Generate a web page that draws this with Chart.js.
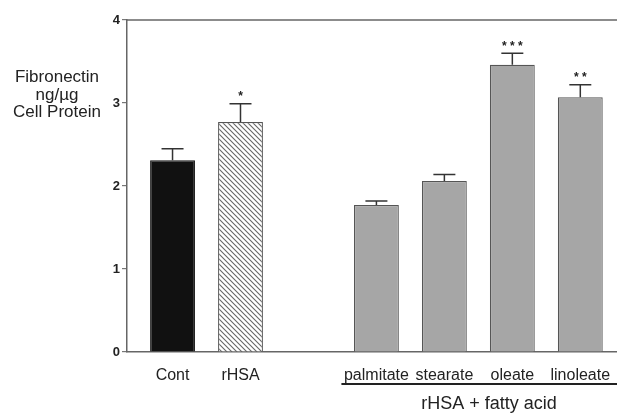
<!DOCTYPE html>
<html>
<head>
<meta charset="utf-8">
<script src="https://cdn.jsdelivr.net/npm/chart.js"></script>
<style>
  html, body { margin: 0; padding: 0; background: #fff; }
  #wrap { width: 617px; height: 413px; position: relative; }
</style>
</head>
<body>
<div id="wrap"><canvas id="chart"></canvas></div>
<script>
// category labels; index 2 is the empty gap between groups
const labels = ['Cont', 'rHSA', '', 'palmitate', 'stearate', 'oleate', 'linoleate'];
const positions = [0, 1, 3, 4, 5, 6];
const values = [2.31, 2.77, 1.77, 2.06, 3.46, 3.07];
const errors = [0.14, 0.22, 0.05, 0.08, 0.14, 0.15];
const stars = ['', '*', '', '', '***', '**'];
const yTicks = [0, 1, 2, 3, 4];

function hatch() {
    const c = document.createElement('canvas');
    c.width = 5; c.height = 5;
    const g = c.getContext('2d');
    g.fillStyle = '#fff';
    g.fillRect(0, 0, 5, 5);
    g.strokeStyle = '#666';
    g.lineWidth = 1.1;
    g.beginPath();
    g.moveTo(-1, -1); g.lineTo(6, 6);
    g.moveTo(-1, 4); g.lineTo(1, 6);
    g.moveTo(4, -1); g.lineTo(6, 1);
    g.stroke();
    return g.createPattern(c, 'repeat');
}

const ctxEl = document.getElementById('chart');
const pattern = hatch();
const FONT = '"Liberation Sans", Arial, sans-serif';

const extras = {
    id: 'extras',
    afterDatasetsDraw(chart) {
        const ctx = chart.ctx;
        const y = chart.scales.y;
        const x = chart.scales.x;
        const area = chart.chartArea;
        const meta = chart.getDatasetMeta(0);
        ctx.save();
        // error bars (upper only)
        ctx.strokeStyle = '#333';
        ctx.lineWidth = 1.5;
        meta.data.forEach((bar, i) => {
            const top = y.getPixelForValue(values[i] + errors[i]);
            ctx.beginPath();
            ctx.moveTo(bar.x, bar.y);
            ctx.lineTo(bar.x, top);
            ctx.moveTo(bar.x - 11, top);
            ctx.lineTo(bar.x + 11, top);
            ctx.stroke();
            if (stars[i]) {
                ctx.fillStyle = '#222';
                ctx.font = 'bold 12px ' + FONT;
                ctx.textAlign = 'center';
                ctx.textBaseline = 'bottom';
                ctx.fillText(stars[i].split('').join(' '), bar.x, top - 1);
            }
        });
        // top frame line
        ctx.strokeStyle = '#666';
        ctx.lineWidth = 1.5;
        ctx.beginPath();
        ctx.moveTo(area.left, area.top);
        ctx.lineTo(area.right, area.top);
        ctx.stroke();
        // group bracket
        const x0 = x.getPixelForValue(3) - 35;
        ctx.strokeStyle = '#222';
        ctx.lineWidth = 2;
        ctx.beginPath();
        ctx.moveTo(x0, 384);
        ctx.lineTo(area.right, 384);
        ctx.stroke();
        ctx.fillStyle = '#222';
        ctx.font = '18px ' + FONT;
        ctx.textAlign = 'center';
        ctx.textBaseline = 'middle';
        ctx.fillText('rHSA + fatty acid', 489, 404);
        // y axis title
        ctx.font = '17px ' + FONT;
        ctx.fillText('Fibronectin', 57, 77);
        ctx.fillText('ng/\u00b5g', 57, 95);
        ctx.fillText('Cell Protein', 57, 112);
        ctx.restore();
    }
};

new Chart(ctxEl, {
    type: 'bar',
    data: {
        datasets: [{
            data: positions.map((p, i) => ({ x: p, y: values[i] })),
            backgroundColor: ['#111', pattern, '#a6a6a6', '#a6a6a6', '#a6a6a6', '#a6a6a6'],
            borderColor: ['#111', '#555', '#555', '#555', '#555', '#555'],
            borderWidth: 1.2,
            barPercentage: 0.66,
            categoryPercentage: 1.0,
        }]
    },
    options: {
        responsive: true,
        maintainAspectRatio: false,
        animation: false,
        layout: { padding: { top: 20, right: 0, left: 0, bottom: 0 } },
        plugins: {
            legend: { display: false },
            tooltip: { enabled: false },
        },
        scales: {
            x: {
                type: 'linear',
                offset: false,
                min: -0.67,
                max: 6.54,
                grid: { display: false },
                border: { display: true, color: '#666', width: 1.5 },
                ticks: {
                    stepSize: 1,
                    includeBounds: false,
                    autoSkip: false,
                    maxRotation: 0,
                    padding: 6,
                    color: '#222',
                    font: { family: FONT, size: 16 },
                    callback: (v) => Number.isInteger(v) ? labels[v] : '',
                },
                afterFit(scale) { scale.height = 61; },
            },
            y: {
                min: 0,
                max: 4,
                afterBuildTicks(scale) { scale.ticks = yTicks.map(v => ({ value: v })); },
                grid: { drawOnChartArea: false, drawTicks: true, tickLength: 5, color: '#777', lineWidth: 1.2 },
                border: { display: true, color: '#666', width: 1.5 },
                ticks: {
                    padding: 2,
                    color: '#222',
                    font: { family: FONT, size: 13, weight: 'bold' },
                },
                afterFit(scale) { scale.width = 127; },
            }
        }
    },
    plugins: [extras]
});
</script>
</body>
</html>
